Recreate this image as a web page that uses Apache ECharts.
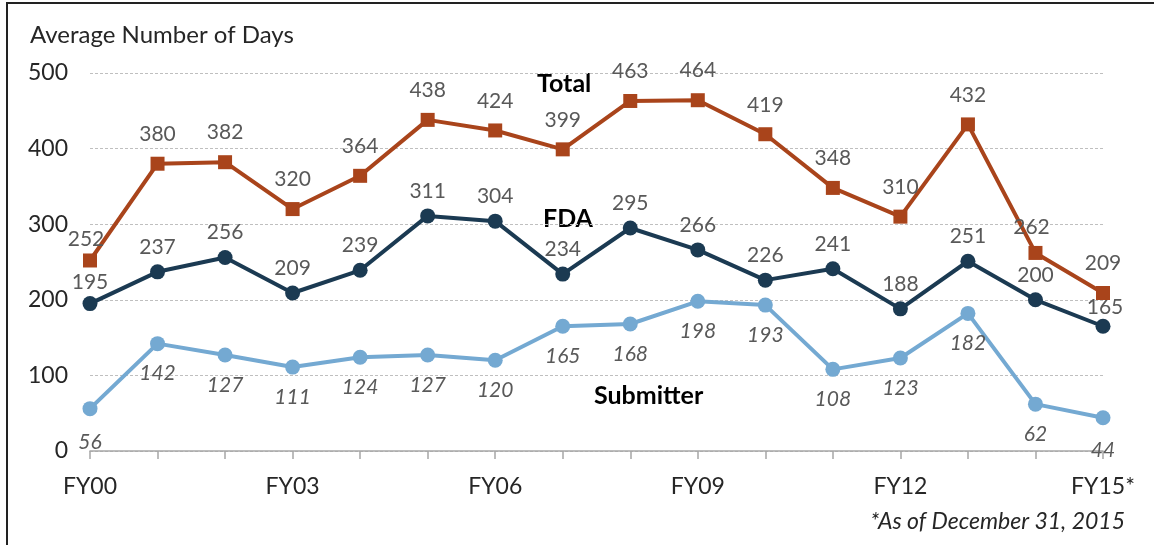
<!DOCTYPE html>
<html>
<head>
<meta charset="utf-8">
<style>
html,body{margin:0;padding:0;background:#fff;}
#chart{width:1154px;height:545px;}
</style>
<script src="https://cdn.jsdelivr.net/npm/echarts@6/dist/echarts.min.js"></script>
</head>
<body>
<div id="chart"></div>
<script>
const categories = ['FY00','FY01','FY02','FY03','FY04','FY05','FY06','FY07','FY08','FY09','FY10','FY11','FY12','FY13','FY14','FY15*'];
const totalDays = [252,380,382,320,364,438,424,399,463,464,419,348,310,432,262,209];
const fdaDays = [195,237,256,209,239,311,304,234,295,266,226,241,188,251,200,165];
const submitterDays = [56,142,127,111,124,127,120,165,168,198,193,108,123,182,62,44];
const yTicks = [0,100,200,300,400,500];

const FONT = 'Lato, "Open Sans", sans-serif';
const chart = echarts.init(document.getElementById('chart'));

function withOffsets(values, offsets) {
  return values.map((v, i) => offsets[i] ? {value: v, label: {offset: offsets[i]}} : v);
}

const totalOffsets = {0: [-4, 8], 14: [-4, 4]};
const fdaOffsets = {0: [0, 4], 15: [2, 6]};
const subOffsets = {0: [0, 4], 15: [0, 2]};

chart.setOption({
  animation: false,
  backgroundColor: '#ffffff',
  grid: {left: 90, right: 51, top: 73, bottom: 94, containLabel: false},
  xAxis: {
    type: 'category',
    data: categories,
    boundaryGap: false,
    axisLine: {lineStyle: {color: '#A6A6A6', width: 1.5}},
    axisTick: {show: true, length: 8, interval: 0, lineStyle: {color: '#A6A6A6', width: 1.5}},
    axisLabel: {interval: 2, color: '#262626', fontSize: 23, fontFamily: FONT, margin: 24},
    splitLine: {show: false}
  },
  yAxis: {
    type: 'value',
    min: yTicks[0],
    max: yTicks[yTicks.length - 1],
    interval: 100,
    axisLine: {show: false},
    axisTick: {show: false},
    axisLabel: {color: '#262626', fontSize: 23, fontFamily: FONT, margin: 22},
    splitLine: {lineStyle: {color: '#BFBFBF', type: [3, 2], width: 1}}
  },
  graphic: [
    {type: 'rect', shape: {x: 7, y: 3, width: 1300, height: 700},
     style: {fill: 'none', stroke: '#222', lineWidth: 2}, silent: true, z: 100},
    {type: 'text', left: 30, top: 23,
     style: {text: 'Average Number of Days', fill: '#262626', fontSize: 24, fontFamily: FONT}},
    {type: 'text', left: 537, top: 71,
     style: {text: 'Total', fill: '#000', fontSize: 25, fontWeight: 'bold', fontFamily: FONT}},
    {type: 'text', left: 543, top: 206,
     style: {text: 'FDA', fill: '#000', fontSize: 25, fontWeight: 'bold', fontFamily: FONT}},
    {type: 'text', left: 594, top: 383,
     style: {text: 'Submitter', fill: '#000', fontSize: 25, fontWeight: 'bold', fontFamily: FONT}},
    {type: 'text', right: 29, top: 510,
     style: {text: '*As of December 31, 2015', fill: '#262626', fontSize: 23, fontStyle: 'italic', fontFamily: FONT}}
  ],
  series: [
    {
      name: 'Total', type: 'line', data: withOffsets(totalDays, totalOffsets),
      symbol: 'rect', symbolSize: 14,
      lineStyle: {color: '#A9441B', width: 4},
      itemStyle: {color: '#A9441B'},
      label: {show: true, position: 'top', distance: 12, color: '#595959', fontSize: 21, fontFamily: FONT},
      z: 3
    },
    {
      name: 'FDA', type: 'line', data: withOffsets(fdaDays, fdaOffsets),
      symbol: 'circle', symbolSize: 15,
      lineStyle: {color: '#1B3A52', width: 4},
      itemStyle: {color: '#1B3A52'},
      label: {show: true, position: 'top', distance: 7, color: '#595959', fontSize: 21, fontFamily: FONT},
      z: 2
    },
    {
      name: 'Submitter', type: 'line', data: withOffsets(submitterDays, subOffsets),
      symbol: 'circle', symbolSize: 15,
      lineStyle: {color: '#74A9D2', width: 4},
      itemStyle: {color: '#74A9D2'},
      label: {show: true, position: 'bottom', distance: 12, color: '#595959', fontSize: 21, fontStyle: 'italic', fontFamily: FONT},
      z: 1
    }
  ]
});
</script>
</body>
</html>
